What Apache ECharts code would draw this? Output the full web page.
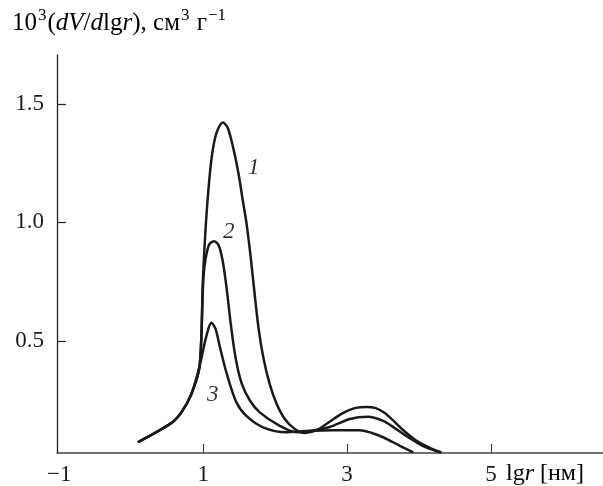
<!DOCTYPE html>
<html>
<head>
<meta charset="utf-8">
<script src="https://cdn.jsdelivr.net/npm/echarts@6/dist/echarts.min.js"></script>
<style>html,body{margin:0;padding:0;background:#fff}#c{width:603px;height:486px}</style>
</head>
<body>
<div id="c"></div>
<script>
// Shared rising part of all three curves
var commonX = [0.093, 0.558, 0.697, 0.836, 0.951];
var commonY = [0.073, 0.154, 0.199, 0.276, 0.395];

var curve1X = [0.997, 1.045, 1.114, 1.184, 1.275, 1.341, 1.424, 1.494, 1.549, 1.605, 1.661, 1.716, 1.772, 1.841, 1.925, 2.022, 2.134, 2.273, 2.412, 2.579, 2.732, 2.940, 3.107, 3.270, 3.399, 3.524, 3.636, 3.761, 3.965, 4.122, 4.289];
var curve1Y = [0.760, 1.026, 1.264, 1.377, 1.421, 1.399, 1.306, 1.201, 1.096, 0.991, 0.852, 0.696, 0.549, 0.423, 0.318, 0.234, 0.171, 0.129, 0.112, 0.124, 0.154, 0.196, 0.217, 0.222, 0.217, 0.196, 0.166, 0.129, 0.079, 0.053, 0.030];

var curve2X = [1.007, 1.077, 1.150, 1.216, 1.271, 1.327, 1.383, 1.452, 1.535, 1.647, 1.786, 2.064, 2.296, 2.481, 2.759, 3.038, 3.292, 3.501, 3.622, 3.844, 4.081, 4.313];
var curve2Y = [0.780, 0.903, 0.921, 0.903, 0.838, 0.720, 0.573, 0.426, 0.321, 0.250, 0.199, 0.142, 0.115, 0.120, 0.137, 0.171, 0.180, 0.163, 0.141, 0.095, 0.053, 0.030];

var curve3X = [1.045, 1.114, 1.174, 1.229, 1.323, 1.462, 1.601, 1.832, 2.157, 2.412, 2.805, 3.177, 3.344, 3.501, 3.733, 3.918];
var curve3Y = [0.521, 0.577, 0.549, 0.479, 0.367, 0.241, 0.184, 0.136, 0.115, 0.120, 0.124, 0.124, 0.112, 0.094, 0.058, 0.030];

var curveNames = ['1', '2', '3'];
var labelX = [1.702, 1.355, 1.132];
var labelY = [1.231, 0.961, 0.271];

var xTicks = [-1, 1, 3, 5];
var yTicks = [0.5, 1.0, 1.5];

function build(xs, ys) {
  var d = [];
  for (var i = 0; i < commonX.length; i++) d.push([commonX[i], commonY[i]]);
  for (var j = 0; j < xs.length; j++) d.push([xs[j], ys[j]]);
  return d;
}
var allX = [curve1X, curve2X, curve3X];
var allY = [curve1Y, curve2Y, curve3Y];

var FONT = '"Liberation Serif", "DejaVu Serif", serif';
var INK = '#1a1a1a';

var series = curveNames.map(function (n, k) {
  return {
    type: 'line',
    name: n,
    data: build(allX[k], allY[k]),
    smooth: 0.3,
    showSymbol: false,
    lineStyle: { color: INK, width: 2.5 },
    z: 3
  };
});
series.push({
  type: 'scatter',
  name: 'labels',
  data: curveNames.map(function (n, k) { return [labelX[k], labelY[k], n]; }),
  symbol: 'circle', symbolSize: 1,
  itemStyle: { color: 'rgba(0,0,0,0)' },
  silent: true,
  z: 4,
  label: {
    show: true, position: 'inside',
    formatter: function (p) { return p.value[2]; },
    fontFamily: FONT, fontStyle: 'italic', fontSize: 23, color: '#000'
  }
});

var chart = echarts.init(document.getElementById('c'), null, { renderer: 'canvas' });
chart.setOption({
  animation: false,
  backgroundColor: '#fff',
  grid: { left: 57, right: 0, top: 55, bottom: 32, containLabel: false },
  xAxis: {
    type: 'value', min: -1.031, max: 6.556,
    axisLine: { onZero: false, lineStyle: { color: '#444', width: 1.5 } },
    splitLine: { show: false },
    axisTick: { inside: true, length: 9, lineStyle: { color: '#444', width: 1.2 }, customValues: [1, 3, 5] },
    axisLabel: {
      customValues: xTicks, margin: 10,
      fontFamily: FONT, fontSize: 23, color: INK,
      formatter: function (v) { return v < 0 ? '\u2212' + Math.abs(v) : String(v); }
    }
  },
  yAxis: {
    type: 'value', min: 0.0276, max: 1.706,
    axisLine: { show: true, onZero: false, lineStyle: { color: '#222', width: 1.3 } },
    splitLine: { show: false },
    axisTick: { show: true, inside: true, length: 9, lineStyle: { color: '#222', width: 1.2 }, customValues: yTicks },
    axisLabel: {
      customValues: yTicks, margin: 13,
      fontFamily: FONT, fontSize: 23, color: INK,
      formatter: function (v) { return v.toFixed(1); }
    }
  },
  series: series,
  graphic: [
    {
      type: 'text', left: 12, top: 6,
      style: {
        text: '{n|10}{s|3}{n|(}{i|dV}{n|/}{i|d}{n|lg}{i|r}{n|), см}{s|3}{n| г}{s|\u22121}',
        rich: {
          n: { fontFamily: FONT, fontSize: 25, color: INK, lineHeight: 30, verticalAlign: 'bottom' },
          i: { fontFamily: FONT, fontSize: 25, fontStyle: 'italic', color: INK, lineHeight: 30, verticalAlign: 'bottom' },
          s: { fontFamily: FONT, fontSize: 17, color: INK, lineHeight: 30, verticalAlign: 'top', padding: [1, 1, 0, 1] }
        }
      }
    },
    {
      type: 'text', left: 506, top: 462,
      style: {
        text: '{n|lg}{i|r}{n| [нм]}',
        rich: {
          n: { fontFamily: FONT, fontSize: 24, color: INK },
          i: { fontFamily: FONT, fontSize: 24, fontStyle: 'italic', color: INK }
        }
      }
    }
  ]
});
</script>
</body>
</html>
